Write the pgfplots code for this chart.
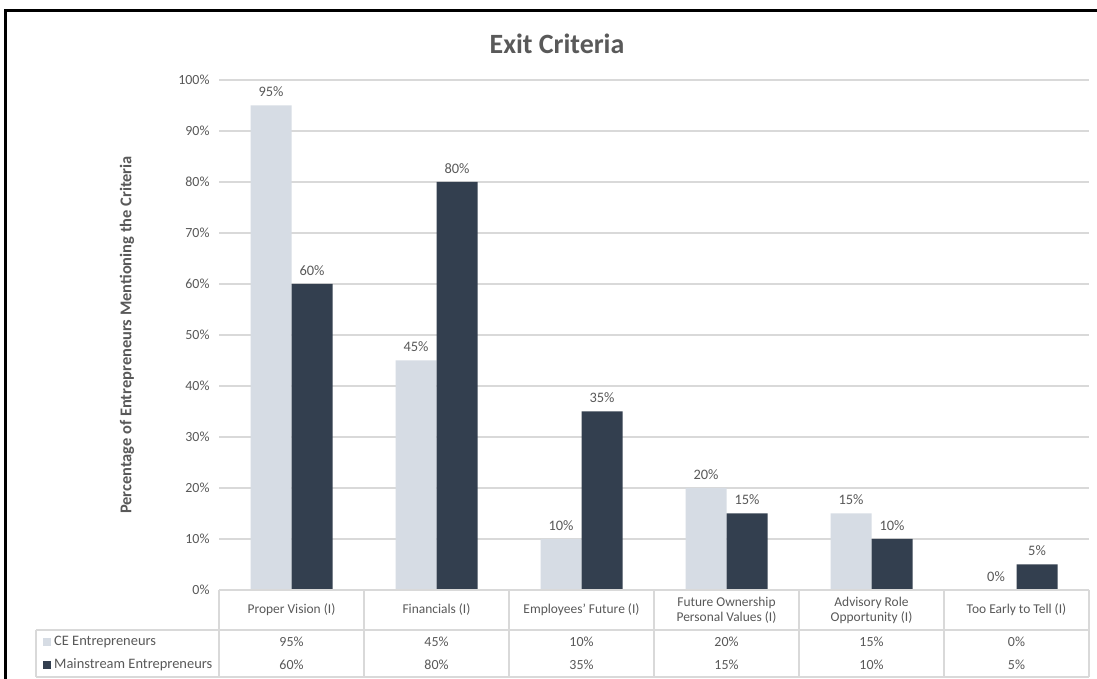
\documentclass[border=0pt]{standalone}
\usepackage{pgfplots}
\pgfplotsset{compat=1.18}
\usepackage{pgfplotstable}
\usepackage{fontspec}
\setmainfont{Carlito}
\definecolor{cecol}{HTML}{D6DCE4}
\definecolor{mscol}{HTML}{333F4F}
\definecolor{txt}{HTML}{595959}
\definecolor{gridc}{HTML}{D9D9D9}
\definecolor{tabc}{HTML}{D9D9D9}
\pgfplotstableread{
x ce ms
0 95 60
1 45 80
2 10 35
3 20 15
4 15 10
5 0 5
}\data
\begin{document}
\begin{tikzpicture}[x=1bp,y=1bp]
\useasboundingbox (0bp,0bp) rectangle (1097bp,679bp);
\fill[white] (0bp,0bp) rectangle (1097bp,679bp);
\begin{axis}[
  at={(219bp,89bp)}, anchor=south west,
  scale only axis, width=870bp, height=510bp,
  xmin=-0.5, xmax=5.5, ymin=0, ymax=100,
  clip=false,
  axis line style={draw=none},
  major tick length=0pt,
  ymajorgrids, grid style={draw=gridc, line width=1.3bp},
  ytick={0,10,...,100},
  yticklabels={0\%,10\%,20\%,30\%,40\%,50\%,60\%,70\%,80\%,90\%,100\%},
  yticklabel style={font=\fontsize{14}{15}\selectfont, text=txt, xshift=-6bp},
  xtick={0,...,5},
  xticklabels={Proper Vision (I), Financials (I), Employees' Future (I), Future Ownership\\Personal Values (I), Advisory Role\\Opportunity (I), Too Early to Tell (I)},
  xticklabel style={font=\fontsize{13.5}{15}\selectfont, text=txt, align=center, anchor=center, yshift=-20bp},
  /pgf/number format/assume math mode=true,
]
\addplot[ybar, bar width=41bp, bar shift=-20.5bp, fill=cecol, draw=none,
  nodes near coords={\pgfmathprintnumber{\pgfplotspointmeta}\%},
  every node near coord/.append style={font=\fontsize{14.5}{16}\selectfont, text=txt, anchor=south, yshift=5bp, xshift=-20.5bp}]
  table[x=x, y=ce] {\data};
\addplot[ybar, bar width=41bp, bar shift=20.5bp, fill=mscol, draw=none,
  nodes near coords={\pgfmathprintnumber{\pgfplotspointmeta}\%},
  every node near coord/.append style={font=\fontsize{14.5}{16}\selectfont, text=txt, anchor=south, yshift=5bp, xshift=20.5bp}]
  table[x=x, y=ms] {\data};
% data table rows
\addplot[draw=none, mark=none, point meta=\thisrow{ce},
  nodes near coords={\pgfmathprintnumber{\pgfplotspointmeta}\%},
  every node near coord/.append style={font=\fontsize{14}{15}\selectfont, text=txt, anchor=center}]
  table[x=x, y expr=-10.2] {\data};
\addplot[draw=none, mark=none, point meta=\thisrow{ms},
  nodes near coords={\pgfmathprintnumber{\pgfplotspointmeta}\%},
  every node near coord/.append style={font=\fontsize{14}{15}\selectfont, text=txt, anchor=center}]
  table[x=x, y expr=-14.7] {\data};
\end{axis}
% table borders
\begin{scope}[draw=tabc, line width=1.2bp]
\draw (219bp,89bp) -- (1089bp,89bp);
\draw (36bp,49bp) -- (1089bp,49bp);
\draw (36bp,2bp) -- (1089bp,2bp);
\foreach \xx in {219,364,509,654,799,944,1089} \draw (\xx bp,89bp) -- (\xx bp,2bp);
\draw (36bp,49bp) -- (36bp,2bp);
\end{scope}
\node[anchor=west, font=\fontsize{14.5}{16}\selectfont, text=txt, inner sep=0] at (43bp,37bp) {\textcolor{cecol}{\rule{8bp}{8bp}}\kern3bp CE Entrepreneurs};
\node[anchor=west, font=\fontsize{14.5}{16}\selectfont, text=txt, inner sep=0] at (43bp,14bp) {\textcolor{mscol}{\rule{8bp}{8bp}}\kern3bp Mainstream Entrepreneurs};
% y label
\node[rotate=90, font=\fontsize{16.5}{18}\selectfont\bfseries, text=txt] at (127bp,344bp) {Percentage of Entrepreneurs Mentioning the Criteria};
% title
\node[font=\fontsize{28}{32}\selectfont\bfseries, text=txt] at (557bp,635bp) {Exit Criteria};
% outer border
\draw[black, line width=3bp] (5bp,0bp) -- (5bp,668bp) -- (1097bp,668bp);
\end{tikzpicture}
\end{document}
